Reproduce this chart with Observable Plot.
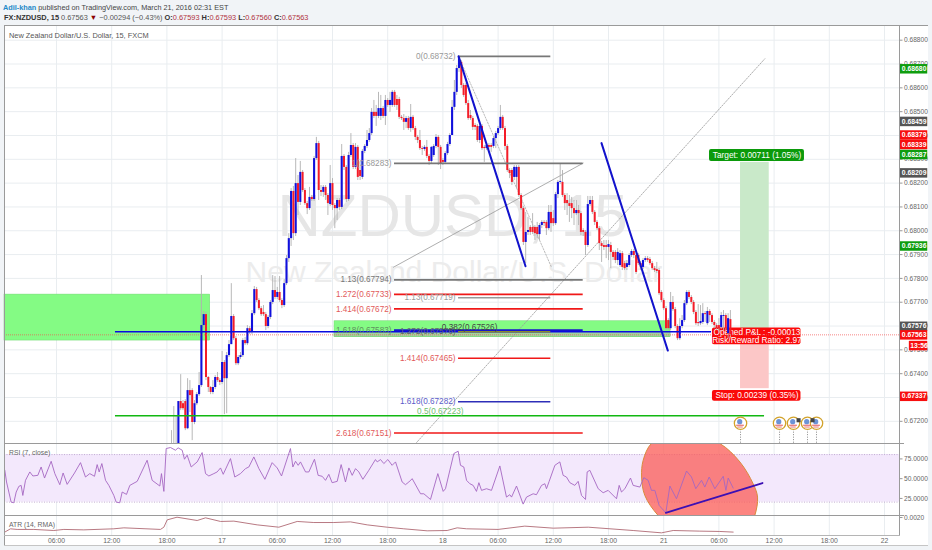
<!DOCTYPE html>
<html><head><meta charset="utf-8">
<script src="https://cdn.jsdelivr.net/npm/d3@7"></script>
<script src="https://cdn.jsdelivr.net/npm/@observablehq/plot@0.6"></script>
<style>
html,body{margin:0;padding:0;background:#f1f4f7;width:932px;height:550px;overflow:hidden;font-family:"Liberation Sans",sans-serif}
#page{position:relative;width:932px;height:550px}
.abs{position:absolute}
.ln{position:absolute;background:#9a9a9a}
svg{display:block}
#h1{left:3px;top:3px;font-size:7.3px;color:#444;white-space:nowrap}
#h1 b{color:#1f8ac9;font-weight:700}
#h2{left:4px;top:13px;font-size:7.4px;color:#555;white-space:nowrap}
#h2 b{color:#333}
#h2 i{font-style:normal;color:#b0303c}
#sym{left:9px;top:31px;font-size:7.4px;font-weight:400;color:#555;white-space:nowrap}
#rsiLabel{left:9px;top:449px;font-size:6.8px;color:#666;white-space:nowrap}
#atrLabel{left:9px;top:521px;font-size:6.8px;color:#666;white-space:nowrap}
</style></head><body><div id="page">
<div class="abs" style="left:4px;top:25px;width:924px;height:520px;background:#fff"></div>
<div class="abs" id="main" style="left:0;top:25px"></div>
<div class="abs" id="rsi" style="left:0;top:443px"></div>
<div class="abs" id="atr" style="left:0;top:515px"></div>
<div class="ln" style="left:4px;top:25px;width:924px;height:1px"></div>
<div class="ln" style="left:4px;top:25px;width:1px;height:520px"></div>
<div class="ln" style="left:899px;top:25px;width:1px;height:510px"></div>
<div class="ln" style="left:4px;top:443px;width:900px;height:1px"></div>
<div class="ln" style="left:4px;top:515px;width:900px;height:1px"></div>
<div class="ln" style="left:4px;top:535px;width:896px;height:1px;background:#b5b5b5"></div>
<div class="ln" style="left:4px;top:545px;width:924px;height:1px;background:#c5c5c5"></div>
<div class="abs" id="h1"><b>Adil-khan</b> published on TradingView.com, March 21, 2016 02:31 EST</div>
<div class="abs" id="h2"><b>FX:NZDUSD, 15</b> 0.67563 <span style="color:#8b0000">▼</span> −0.00294 (−0.43%) <b>O:</b><i>0.67593</i> <b>H:</b><i>0.67593</i> <b>L:</b><i>0.67560</i> <b>C:</b><i>0.67563</i></div>
<div class="abs" id="sym">New Zealand Dollar/U.S. Dollar, 15, FXCM</div>
<div class="abs" id="rsiLabel">RSI (7, close)</div>
<div class="abs" id="atrLabel">ATR (14, RMA)</div>
</div>
<script>
// Time axis: trading hours since the start of the visible window (15 minute bars)
const timeTicks = [6,12,18,24,30,36,42,48,54,60,66,72,78,84,90,96];
const timeLabels = ["06:00","12:00","18:00","17","06:00","12:00","18:00","18","06:00","12:00","18:00","21","06:00","12:00","18:00","22"];
const timeDomain = [0.348, 97.63];
const firstBarHour = 18.5;
const barHours = 0.25;

// Prices in units of 0.00001
const opens = [
67027,67056,67077,67098,67283,67274,67283,67169,67329,67329,
67195,67274,67312,67350,67602,67648,67384,67342,67321,67342,
67384,67371,67363,67447,67379,67476,67522,67640,67547,67442,
67468,67476,67539,67526,67589,67573,67652,67753,67707,67673,
67657,67648,67598,67636,67699,67749,67720,67741,67707,67686,
67778,67883,67967,68165,67988,68198,68119,68245,68169,68114,
68093,68140,68131,68303,68366,68169,68161,68182,68148,68110,
68198,68106,68093,68127,68098,68312,68266,68131,68316,68358,
68266,68350,68253,68224,68333,68354,68379,68408,68497,68497,
68480,68480,68513,68480,68547,68526,68526,68581,68551,68551,
68476,68471,68455,68471,68429,68476,68429,68392,68379,68345,
68341,68350,68312,68291,68316,68354,68392,68350,68295,68287,
68324,68362,68400,68518,68581,68681,68707,68610,68610,68534,
68484,68471,68442,68438,68379,68438,68350,68345,68358,68358,
68354,68387,68408,68429,68476,68429,68354,68253,68253,68224,
68224,68266,68148,68093,67951,67993,68014,68014,68014,68014,
67984,68022,68035,68035,68009,68077,68051,68030,68152,68203,
68203,68148,68127,68114,68114,68093,68072,68085,68072,68001,
67993,67938,68110,68127,68077,68035,68009,67946,67938,67938,
67930,67938,67909,67909,67875,67854,67904,67862,67846,67854,
67896,67913,67896,67896,67862,67846,67875,67883,67879,67862,
67841,67837,67833,67741,67707,67673,67623,67589,67699,67669,
67598,67547,67598,67623,67694,67741,67720,67699,67657,67615,
67610,67615,67652,67610,67661,67644,67615,67602,67602,67594,
67640,67644,67568,67627];
const closes = [
67056,67077,67098,67283,67253,67253,67169,67329,67308,67195,
67274,67312,67350,67602,67648,67384,67342,67321,67342,67384,
67371,67363,67447,67379,67476,67522,67640,67547,67442,67468,
67476,67539,67526,67589,67573,67652,67753,67707,67673,67648,
67648,67598,67636,67699,67749,67720,67741,67707,67686,67778,
67883,67967,68165,67988,68198,68119,68245,68169,68114,68093,
68140,68131,68303,68366,68169,68161,68182,68148,68114,68198,
68106,68093,68127,68098,68312,68266,68131,68316,68358,68266,
68350,68224,68228,68333,68354,68379,68408,68497,68480,68480,
68513,68513,68480,68547,68526,68547,68581,68526,68526,68476,
68471,68455,68471,68429,68476,68429,68392,68379,68345,68341,
68350,68312,68291,68350,68354,68392,68350,68282,68287,68324,
68362,68400,68518,68581,68681,68728,68610,68568,68534,68471,
68471,68434,68434,68379,68438,68345,68345,68358,68350,68350,
68387,68408,68429,68476,68429,68354,68253,68240,68203,68266,
68266,68148,68093,67951,67993,68001,67993,67993,67988,67984,
68022,68035,68030,68009,68077,68030,68030,68152,68203,68207,
68148,68114,68114,68102,68093,68072,68085,68072,67993,67993,
67938,68110,68127,68077,68035,68009,67946,67934,67930,67930,
67942,67909,67888,67875,67909,67904,67846,67841,67862,67896,
67913,67896,67825,67862,67846,67875,67883,67875,67862,67841,
67833,67829,67736,67707,67673,67589,67589,67699,67669,67598,
67547,67598,67623,67694,67741,67720,67699,67657,67610,67610,
67619,67652,67648,67661,67644,67615,67602,67589,67589,67644,
67644,67589,67631,67564];
const highs = [
67161,67262,67224,67283,67396,67287,67291,67379,67371,67337,
67287,67321,67405,67812,67661,67657,67388,67346,67371,67392,
67405,67379,67493,67455,67489,67539,67778,67648,67556,67476,
67489,67547,67552,67602,67598,67665,67766,67762,67715,67682,
67686,67657,67644,67707,67812,67808,67762,67808,67715,67795,
67896,67988,68177,68186,68303,68232,68291,68253,68177,68123,
68182,68148,68312,68392,68375,68190,68190,68190,68156,68274,
68219,68114,68135,68135,68362,68320,68274,68329,68408,68366,
68366,68358,68274,68341,68362,68421,68429,68513,68547,68526,
68581,68568,68522,68568,68555,68581,68589,68589,68568,68560,
68484,68488,68480,68480,68530,68484,68438,68400,68421,68354,
68358,68379,68320,68354,68362,68404,68400,68358,68303,68333,
68371,68408,68547,68631,68694,68732,68715,68618,68618,68547,
68505,68480,68450,68446,68446,68446,68358,68366,68366,68366,
68396,68417,68438,68526,68484,68438,68362,68261,68261,68274,
68274,68274,68156,68102,68077,68056,68022,68072,68022,68035,
68030,68043,68043,68043,68106,68106,68085,68161,68211,68282,
68253,68156,68156,68148,68140,68127,68127,68106,68081,68009,
68001,68144,68144,68144,68085,68043,68018,67955,67959,67959,
67959,67951,67917,67917,67925,67917,67913,67871,67875,67904,
67921,67921,67904,67904,67871,67883,67892,67892,67888,67871,
67850,67867,67841,67749,67715,67682,67631,67741,67724,67678,
67606,67631,67644,67707,67749,67749,67728,67707,67665,67690,
67686,67694,67661,67678,67669,67652,67623,67610,67631,67657,
67665,67652,67652,67665];
const lows = [
66993,66993,67035,67085,67245,67245,67161,67165,67237,67119,
67186,67266,67304,67342,67589,67371,67321,67312,67312,67333,
67363,67350,67354,67228,67232,67468,67522,67539,67434,67434,
67459,67468,67518,67518,67564,67564,67644,67699,67665,67640,
67640,67581,67589,67627,67690,67711,67711,67699,67673,67678,
67770,67867,67934,67959,67976,68064,68106,68161,68106,68068,
68085,68123,68123,68295,68127,68144,68140,68127,68064,68102,
68085,68009,68043,68085,68089,68253,68119,68123,68308,68257,
68257,68211,68211,68215,68324,68345,68371,68400,68471,68438,
68471,68463,68471,68442,68518,68497,68518,68518,68505,68467,
68463,68421,68429,68421,68413,68421,68379,68366,68337,68316,
68333,68303,68274,68282,68308,68345,68274,68257,68274,68278,
68316,68354,68400,68505,68568,68665,68597,68560,68526,68463,
68463,68421,68421,68371,68366,68337,68287,68337,68341,68329,
68345,68345,68400,68421,68421,68337,68245,68219,68190,68211,
68177,68140,68085,67938,67862,67980,67980,67984,67959,67967,
67959,68009,68018,67980,68001,67993,68018,68022,68135,68194,
68140,68085,68064,68035,68051,68022,68064,68022,67980,67976,
67896,67930,68102,68068,68022,68001,67917,67867,67917,67883,
67875,67841,67875,67862,67854,67846,67833,67833,67833,67846,
67888,67883,67816,67854,67833,67837,67867,67867,67854,67833,
67825,67820,67728,67699,67665,67581,67581,67581,67661,67589,
67539,67539,67589,67615,67686,67711,67690,67648,67602,67598,
67602,67606,67615,67602,67615,67606,67589,67581,67573,67585,
67581,67581,67547,67556];

const priceTicks = [0.672,0.673,0.674,0.675,0.676,0.677,0.678,0.679,0.68,0.681,0.682,0.683,0.684,0.685,0.686,0.687,0.688];
const priceDomain = [0.671069, 0.688617];

// Fibonacci levels
const fibPrice = [0.68732,0.68283,0.67794,0.67733,0.67672,0.67719,0.67576,0.67465,0.67282,0.67151,0.67583];
const fibStart = [49.7,42.74,42.74,42.74,42.74,49.7,49.7,49.7,49.7,42.74,42.74];
const fibEnd   = [59.73,63.25,63.25,63.25,63.25,59.73,59.73,59.73,59.73,63.25,63.25];
const fibColor = ["#777777","#777777","#777777","#f01818","#f01818","#999999","#8b8b2a","#f01818","#2e2eb8","#f01818","#1515cc"];
const fibText  = ["0(0.68732)","1(0.68283)","1.13(0.67794)","1.272(0.67733)","1.414(0.67672)","1.13(0.67719)","1.272(0.67576)","1.414(0.67465)","1.618(0.67282)","2.618(0.67151)","1.618(0.67583)"];
const fibTextColor = ["#999","#999","#777","#e25a5a","#e25a5a","#999","#666","#e25a5a","#5b5bc8","#e25a5a","#5f8f5f"];

// Support zones
const zoneStart = [0.348,36.22,36.22];
const zoneEnd = [22.71,72.74,72.74];
const zoneTop = [0.67732,0.6762,0.67575];
const zoneBottom = [0.67539,0.67553,0.67553];
const zoneColor = ["#84fb84","#84fb84","#9fd49f"];

// Position tool
const entryPrice = 0.67576, targetPrice = 0.68287, stopPrice = 0.67337;
const positionStart = 80.35, positionEnd = 83.47;
const noteText = ["Target: 0.00711 (1.05%)","Opened P&L : -0.00013","Risk/Reward Ratio: 2.97","Stop: 0.00239 (0.35%)"];
const notePrice = [0.68316,0.67574,0.67542,0.67307];
const boxStart = [76.98,77.3,77.3];
const boxEnd = [87.3,86.92,86.92];
const boxTop = [0.68341,0.67592,0.67329];
const boxBottom = [0.68291,0.67521,0.67284];
const boxColor = ["#0b9a0b","#fa0a0a","#fa0a0a"];

// Axis price tags: label and the price at which the tag sits
const tagText = ["0.68680","0.68459","0.68379","0.68339","0.68287","0.68209","0.67936","0.67576","0.67563","0.67337"];
const tagAt = [0.6868,0.68459,0.68402,0.68362,0.6832,0.68243,0.67936,0.67599,0.67563,0.67305];
const tagColor = ["#0f9d0f","#555555","#f70f0f","#f70f0f","#0f9d0f","#555555","#0f9d0f","#555555","#f70f0f","#f70f0f"];

// Economic event markers
const eventHours = [80.35,84.59,86.11,87.63,88.61];
const eventPrice = 0.67192;
const eventFlagged = [86.11,87.63];

// RSI (7, close)
const rsiHours = [
.38,.57,.82,1.07,1.36,1.62,1.91,2.16,2.34,2.63,3.1,3.43,3.97,4.33,4.7,5.42,5.82,6.36,6.72,7.16,7.96,8.61,9.15,9.62,10.13,10.42,10.64,10.93,11.33,11.69,
12.23,12.49,12.88,13.14,13.61,13.97,14.77,15.85,16.4,17.23,17.41,17.67,17.92,18.39,18.93,19.22,19.66,19.91,20.2,20.64,21.29,21.83,22.2,22.56,23.1,23.46,23.83,24.12,24.91,25.38,
26,26.54,26.91,27.45,28,28.65,29.44,29.99,30.46,31.43,31.69,31.98,32.27,32.52,33.07,33.43,34.04,34.44,34.88,35.24,35.6,35.96,36.51,36.94,37.41,37.78,38.14,38.5,38.86,39.3,
39.95,40.67,40.86,41.22,41.58,42.02,42.48,42.85,43.57,43.93,44.3,44.66,45.57,45.93,46.65,47.45,48.03,48.28,49.19,49.66,49.91,50.27,50.57,50.93,51.29,51.65,51.91,52.2,52.74,53.28,
54.19,54.91,55.27,55.46,56,56.72,57.09,57.81,58.17,58.72,59.08,59.26,59.55,60.17,60.71,61.07,61.43,61.8,62.34,62.7,63.07,63.5,63.68,63.97,64.88,65.42,65.96,66.87,67.16,67.41,
67.78,68.39,68.68,69.41,69.84,70.31,70.67,71.04,71.51,72.23,72.67,73.39,74.48,75.02,75.49,76.11,76.47,76.94,77.56,78.47,78.76,79.01,79.55];
const rsiValues = [
60.6,45.8,33.1,20.3,19.5,33.1,40.3,41.5,28.8,47.9,58.5,53.4,54.2,64.8,50.8,72,56.4,42.4,57.2,42.8,57.2,70.3,52.1,56.4,53,67.8,58.5,69.1,47.9,41.5,
28.8,20.3,19.5,33.1,30.1,41.5,46.6,73.3,47.9,40.7,56.4,33.9,88.1,89.4,86,89,86,74.6,79.7,64.8,71.2,83,56.4,53.4,56.4,58.5,63.6,55.5,75.4,52.1,
56.4,62.7,64.8,77.5,62.7,49.2,70.3,63.6,53.4,88.1,64.8,72,66.9,71.2,58.5,58.5,74.6,54.2,53,47.9,55.5,44.9,46.6,67.8,45.8,63.6,54.2,62.7,58.5,49.2,
60.6,74.2,71.2,74.2,69.1,74.2,66.9,71.2,45.8,42.4,45.8,50,30.9,30.9,23.7,56.4,33.9,37.3,81.8,84.7,66.9,64.8,47.9,43.6,41.5,33.9,44.9,35.2,37.3,35.2,
66.1,26.7,29.7,26.7,40.7,17.8,26.7,30.9,29.7,41.5,43.6,37.3,46.6,66.9,71.2,54.2,52.1,44.9,41.5,46.6,28.8,23.7,58.5,60.6,37.3,32.2,35.2,24.6,41.5,33.1,
37.3,50.8,41.5,39.4,51.3,47.9,35.2,35.2,16.1,6.8,40.7,24.6,59.7,52.1,37.3,47.9,39.4,52.1,37.3,53,35.2,50.8,38.1];
const rsiTicks = [25,50,75];
const rsiDomain = [3.4,94.5];
const rsiBand = [20.3,80.5];
const rsiTrendHours = [72.23,82.74];
const rsiTrendValues = [6.8,44.5];
const ovalHours = [70.67,72.3,75.2,78.1,80.28,81.72,82.2,81.9,81,77.4,73.75,71.4,69.95,69.6,69.77];
const ovalValues = [94.5,101.7,105.9,94.5,71.2,43.6,26.7,3.4,-17.8,-30.5,-19.9,3.4,28.8,52.1,73.3];

// ATR (14, RMA)
const atrHours = [.38,1,1.72,3.54,5.71,6.8,8.97,12.23,13.32,17.3,17.67,18.03,19.1,21.29,22.2,23.83,25.28,27.81,30.17,32.16,33.97,36.14,37.96,39.77,41.94,43.75,46.29,48.46,49.55,50.57,54,56.9,60,63.8,68.68,71.76,73.03,75.93,78.1,79.55];
const atrValues = [.00063,.00094,.00088,.00088,.00078,.00088,.00084,.00094,.00103,.00088,.00109,.00178,.00203,.00172,.00197,.00163,.00166,.00131,.00109,.00163,.00153,.00153,.00159,.00131,.00109,.00094,.00075,.00078,.00103,.00094,.00088,.00119,.001,.00109,.00078,.00056,.00078,.00072,.00069,.00063];
const atrTicks = [0.002];
const atrDomain = [0.00031,0.00219];

const bars = opens.map((o,i)=>({t:firstBarHour+i*barHours,o:o/1e5,c:closes[i]/1e5,h:highs[i]/1e5,l:lows[i]/1e5}));
const ups = bars.filter(d=>d.c>=d.o), downs = bars.filter(d=>d.c<d.o);
const fibs = fibPrice.map((p,i)=>({p,a:fibStart[i],b:fibEnd[i],color:fibColor[i],text:fibText[i],tc:fibTextColor[i]}));
const zones = zoneStart.map((a,i)=>({a,b:zoneEnd[i],t:zoneTop[i],m:zoneBottom[i],color:zoneColor[i]}));
const tags = tagText.map((text,i)=>({text,at:tagAt[i],color:tagColor[i]}));
const notes = noteText.map((text,i)=>({text,p:notePrice[i]}));
const boxes = boxStart.map((a,i)=>({a,b:boxEnd[i],t:boxTop[i],m:boxBottom[i],color:boxColor[i]}));
const rsiLine = rsiHours.map((t,i)=>({t,v:rsiValues[i]}));
const atrLine = atrHours.map((t,i)=>({t,v:atrValues[i]}));
const oval = ovalHours.map((t,i)=>({t,v:ovalValues[i]}));

const gridCol = "#e9edf0";
const font = "'Liberation Sans',sans-serif";
const axisCol = "#666";
const tagLeft = 97.7, tagRight = 100.7, tagMid = 99.22;

const main = Plot.plot({
  width:932,height:418,marginLeft:4,marginRight:33,marginTop:0,marginBottom:0,
  style:{background:"transparent",fontFamily:font},
  color:{type:"identity"},
  x:{domain:timeDomain,axis:null},
  y:{domain:priceDomain,axis:null},
  marks:[
    Plot.ruleX(timeTicks,{stroke:gridCol,strokeWidth:1}),
    Plot.ruleY(priceTicks,{stroke:gridCol,strokeWidth:1,x1:timeDomain[0],x2:timeDomain[1]}),
    Plot.text(["NZDUSD, 15"],{x:[49.04],y:[0.6806],fontSize:60,fill:"#e6e6e6",textAnchor:"middle",fontFamily:"Liberation Sans"}),
    Plot.text(["New Zealand Dollar/U.S. Dollar"],{x:[49.2],y:[0.67825],fontSize:30,fill:"#ececec",textAnchor:"middle",fontFamily:"Liberation Sans"}),
    Plot.rect(zones,{x1:"a",x2:"b",y1:"m",y2:"t",fill:"color",stroke:"#70d870",strokeWidth:.5,inset:0}),
    Plot.rect([{p:targetPrice}],{x1:positionStart,x2:positionEnd,y1:entryPrice,y2:"p",fill:"#c9e9c9"}),
    Plot.rect([{p:stopPrice}],{x1:positionStart,x2:positionEnd,y1:entryPrice,y2:"p",fill:"#fcc7c7"}),
    Plot.line([[45.02,0.67106],[82.99,0.68722]],{x:d=>d[0],y:d=>d[1],stroke:"#999",strokeWidth:.8,strokeDasharray:"1.5,1.5",clip:true}),
    Plot.line([[49.7,0.68732],[59.8,0.67847]],{x:d=>d[0],y:d=>d[1],stroke:"#aaa",strokeWidth:.8,strokeDasharray:"1.5,1.5"}),
    Plot.line([[42.63,0.67847],[63.25,0.68284]],{x:d=>d[0],y:d=>d[1],stroke:"#999",strokeWidth:.8}),
    Plot.rect(boxes,{x1:"a",x2:"b",y1:"m",y2:"t",fill:"color",rx:2}),
    Plot.text(notes,{x:[82.14,82.14,82.14,82.14],y:"p",text:"text",fill:"#fff",fontSize:8.3,textAnchor:"middle",letterSpacing:.15}),
    Plot.ruleX(bars,{x:"t",y1:"l",y2:"h",stroke:"#b0b0b0",strokeWidth:.9,clip:true}),
    Plot.ruleX(ups,{x:"t",y1:"o",y2:"c",stroke:"#1010dc",strokeWidth:2.1,clip:true}),
    Plot.ruleX(downs,{x:"t",y1:"o",y2:"c",stroke:"#f41c28",strokeWidth:2,clip:true}),
    Plot.ruleY([0.67563],{x1:timeDomain[0],x2:timeDomain[1],stroke:"#f05050",strokeWidth:.7,strokeDasharray:"1,1"}),
    Plot.ruleY([entryPrice],{x1:12.41,x2:77.2,stroke:"#0a0ae0",strokeWidth:1.7}),
    Plot.ruleY([0.67223],{x1:12.41,x2:82.96,stroke:"#12b812",strokeWidth:1.5}),
    Plot.ruleY(fibs,{y:"p",x1:"a",x2:"b",stroke:"color",strokeWidth:1.6}),
    Plot.line([[49.7,0.68732],[56.98,0.67851]],{x:d=>d[0],y:d=>d[1],stroke:"#1212cc",strokeWidth:2}),
    Plot.line([[65.24,0.68368],[72.45,0.67497]],{x:d=>d[0],y:d=>d[1],stroke:"#1212cc",strokeWidth:2}),
    Plot.text(fibs,{x:d=>d.a-0.33,y:"p",text:"text",fill:"tc",fontSize:8.2,textAnchor:"end",letterSpacing:.1}),
    Plot.text(["0.382(0.67526)"],{x:[50.9],y:[0.67595],fill:"#444",fontSize:8.2,textAnchor:"middle"}),
    Plot.text(["0.5(0.67223)"],{x:[50.24],y:[0.67241],fill:"#70c070",fontSize:8.2,textAnchor:"end"}),
    Plot.ruleX(eventHours,{y1:0.67165,y2:0.67107,stroke:"#888",strokeWidth:1,strokeDasharray:"1,1.5"}),
    Plot.dot(eventHours,{x:d=>d,y:eventPrice,r:6.2,fill:"#fff",stroke:"#d2a22a",strokeWidth:1.3}),
    Plot.dot(eventHours,{x:d=>d,y:eventPrice,r:2.6,fill:"#6c93d6",dx:-.8,dy:-1.6}),
    Plot.ruleY(eventHours,{y:eventPrice,x1:d=>d-.42,x2:d=>d+.42,stroke:"#e25555",strokeWidth:1,dy:2}),
    Plot.ruleY(eventHours,{y:eventPrice,x1:d=>d-.3,x2:d=>d+.3,stroke:"#e25555",strokeWidth:.8,dy:3.8}),
    Plot.dot(eventFlagged,{x:d=>d+.55,y:eventPrice,symbol:"square",r:2.3,fill:"#444",dy:-3}),
    Plot.axisY(priceTicks,{anchor:"right",tickFormat:d=>d.toFixed(5),tickSize:2.5,tickPadding:2,fontSize:6.6,stroke:"#999",color:axisCol,fill:axisCol,label:null}),
    Plot.ruleY(tags,{y:"at",x1:tagLeft,x2:tagRight,stroke:"color",strokeWidth:9.5}),
    Plot.text(tags,{x:tagMid,y:"at",text:"text",fill:"#fff",fontSize:6.8,fontWeight:700}),
    Plot.ruleY(["13:56"],{y:0.67518,x1:98.7,x2:tagRight,stroke:"#f70f0f",strokeWidth:9.5}),
    Plot.text(["13:56"],{x:99.75,y:0.67518,fill:"#fff",fontSize:6.8,fontWeight:700}),
  ]
});
document.getElementById("main").append(main);

const rsi = Plot.plot({
  width:932,height:72,marginLeft:4,marginRight:33,marginTop:0,marginBottom:0,
  style:{background:"transparent",fontFamily:font},
  x:{domain:timeDomain,axis:null},
  y:{domain:rsiDomain,axis:null},
  marks:[
    Plot.ruleX(timeTicks,{stroke:gridCol}),
    Plot.rect([rsiBand],{x1:timeDomain[0],x2:timeDomain[1],y1:d=>d[0],y2:d=>d[1],fill:"#f3e8fc"}),
    Plot.ruleY(rsiBand,{x1:timeDomain[0],x2:timeDomain[1],stroke:"#b79fc8",strokeWidth:.8,strokeDasharray:"1,1.5"}),
    Plot.line(oval,{x:"t",y:"v",z:null,curve:"catmull-rom-closed",fill:"#fb5d58",fillOpacity:.76,stroke:"#d98a3a",strokeWidth:1,clip:true}),
    Plot.line(rsiLine,{x:"t",y:"v",stroke:"#a566c2",strokeWidth:.9,clip:true}),
    Plot.line(rsiTrendHours.map((t,i)=>({t,v:rsiTrendValues[i]})),{x:"t",y:"v",stroke:"#3c10b4",strokeWidth:1.8}),
    Plot.axisY(rsiTicks,{anchor:"right",tickFormat:d=>d.toFixed(4),tickSize:2.5,tickPadding:2,fontSize:6.6,fill:axisCol,stroke:"#999",label:null}),
  ]
});
document.getElementById("rsi").append(rsi);

const atr = Plot.plot({
  width:932,height:30,marginLeft:4,marginRight:33,marginTop:0,marginBottom:10,
  style:{background:"transparent",fontFamily:font},
  x:{domain:timeDomain,axis:null},
  y:{domain:atrDomain,axis:null},
  marks:[
    Plot.ruleX(timeTicks,{stroke:gridCol}),
    Plot.line(atrLine,{x:"t",y:"v",stroke:"#b06a74",strokeWidth:.9}),
    Plot.axisY(atrTicks,{anchor:"right",tickFormat:d=>d.toFixed(4),tickSize:2.5,tickPadding:2,fontSize:6.6,fill:axisCol,stroke:"#999",label:null}),
    Plot.axisX(timeTicks,{tickFormat:d=>timeLabels[timeTicks.indexOf(d)],tickSize:0,tickPadding:3,fontSize:6.8,fill:axisCol,label:null}),
  ]
});
document.getElementById("atr").append(atr);
</script></body></html>
